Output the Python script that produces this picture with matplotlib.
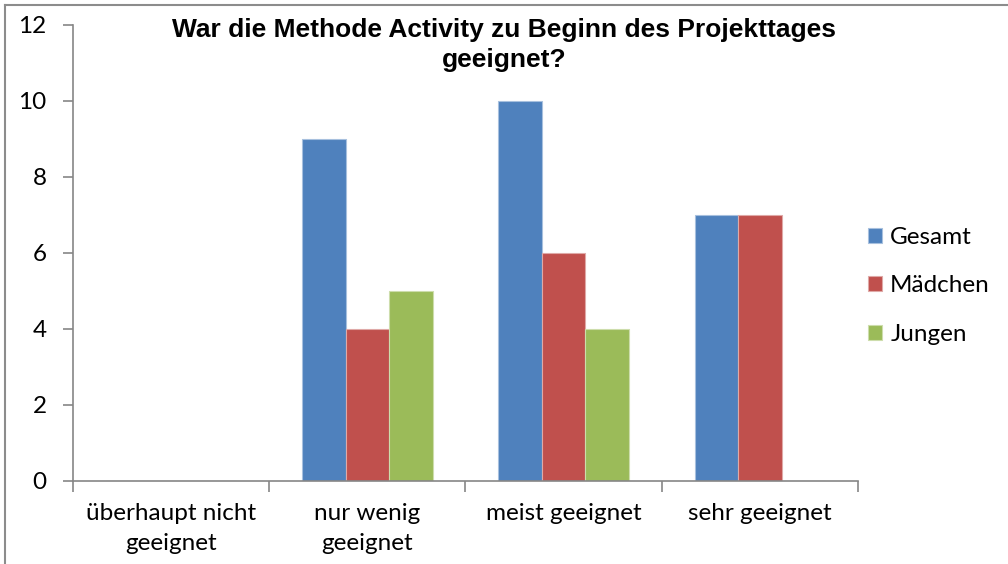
import matplotlib.pyplot as plt
import numpy as np
from matplotlib.lines import Line2D

# data
categories = ["überhaupt nicht\ngeeignet", "nur wenig\ngeeignet", "meist geeignet", "sehr geeignet"]
gesamt = [0, 9, 10, 7]
maedchen = [0, 4, 6, 7]
jungen = [0, 5, 4, 0]
series_names = ["Gesamt", "Mädchen", "Jungen"]
colors = ["#4F81BD", "#C0504D", "#9BBB59"]
edges = ["#A7C0DE", "#DFA9A7", "#CDDDAC"]

fig = plt.figure(figsize=(10.08, 5.64), dpi=100)
ax = fig.add_axes([0.0724, 0.1472, 0.7788, 0.8085])

x = np.arange(len(categories))
w = 0.222
for i, (vals, name) in enumerate(zip([gesamt, maedchen, jungen], series_names)):
    ax.bar(x + (i - 1) * w, vals, width=w, color=colors[i], edgecolor=edges[i],
           linewidth=0.8, label=name)

ax.set_xlim(-0.5, 3.5)
ax.set_ylim(0, 12)
ax.set_yticks(range(0, 13, 2))
ax.set_xticks(x)
ax.set_xticklabels(categories)
ax.set_xticks(np.arange(-0.5, 4, 1), minor=True)

for s in ["top", "right"]:
    ax.spines[s].set_visible(False)
for s in ["left", "bottom"]:
    ax.spines[s].set_color("#868686")
    ax.spines[s].set_linewidth(1.2)

ax.tick_params(axis="x", which="major", length=0, pad=16, labelsize=17.5)
ax.tick_params(axis="x", which="minor", length=8, width=1.2, color="#868686", direction="out")
ax.tick_params(axis="y", length=7, width=1.2, color="#868686", pad=12, labelsize=17.5)
for lab in ax.get_xticklabels() + ax.get_yticklabels():
    lab.set_fontfamily("Lato")
for lab in ax.get_xticklabels():
    lab.set_linespacing(1.5)

fig.text(0.5, 0.968, "War die Methode Activity zu Beginn des Projekttages\ngeeignet?",
         ha="center", va="top", fontsize=19, fontweight="bold",
         family="Liberation Sans", linespacing=1.3)

fig.legend(loc="center left", bbox_to_anchor=(0.839, 0.493), frameon=False,
           prop={"family": "Lato", "size": 17.5}, handlelength=0.58, handleheight=0.58,
           handletextpad=0.35, labelspacing=1.12)

# frame lines like the exported chart (top and left only visible)
fig.add_artist(Line2D([0.005, 0.005], [0, 0.991], transform=fig.transFigure, color="#8C8C8C", lw=1.5))
fig.add_artist(Line2D([0.005, 1.0], [0.991, 0.991], transform=fig.transFigure, color="#8C8C8C", lw=1.5))

fig.savefig("out.png", dpi=100)
